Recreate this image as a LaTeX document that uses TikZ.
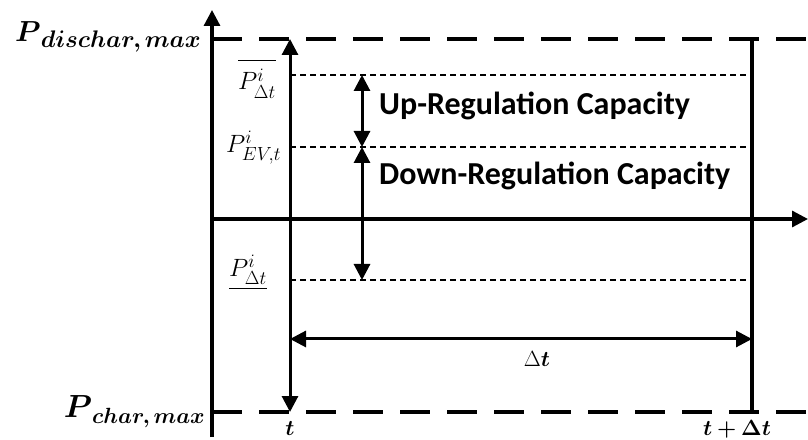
\RequirePackage{fix-cm}
\documentclass[tikz,border=0pt]{standalone}
\usepackage{fontspec}
\usepackage{amsmath}
\usepackage{bm}
\setsansfont{Carlito}
\DeclareMathSizes{25}{25}{19}{15}
\usetikzlibrary{arrows.meta}
\begin{document}
\begin{tikzpicture}[x=1pt,y=1pt,
	axisline/.style={line width=3.2pt, -{Triangle[length=16pt,width=16pt]}},
	dashline/.style={line width=3.2pt, dash pattern=on 30pt off 17pt},
	dotline/.style={line width=2.4pt, dash pattern=on 6pt off 4pt},
	dimarrow/.style={line width=3pt, {Triangle[length=16pt,width=16pt]}-{Triangle[length=16pt,width=16pt]}},
	caplabel/.style={font=\sffamily\bfseries\fontsize{32}{36}\selectfont, anchor=base west, inner sep=0pt},
	mathlabel/.style={font=\fontsize{25}{28}\selectfont, anchor=base west, inner sep=0pt},
	timelabel/.style={font=\fontsize{22}{26}\selectfont, anchor=base, inner sep=0pt}]
	\useasboundingbox (0,0) rectangle (808,439);
	% axes
	\coordinate (o) at (212,2); \coordinate (ytop) at (212,429);
	\coordinate (xl) at (212,220); \coordinate (xr) at (808,220);
	\draw[axisline] (o) -- (ytop);
	\draw[axisline] (xl) -- (xr);
	% limits
	\coordinate (maxl) at (212,400); \coordinate (maxr) at (808,400);
	\coordinate (minl) at (212,27); \coordinate (minr) at (808,27);
	\draw[dashline] (maxl) -- (maxr);
	\draw[dashline] (minl) -- (minr);
	\node[anchor=base east, inner sep=0pt] (pdis) at (201,397) {\fontsize{29}{32}\selectfont$\bm{P}$\raisebox{-6pt}{\fontsize{24}{26}\selectfont$\bm{dischar,max}$}};
	\node[anchor=base east, inner sep=0pt] (pch) at (205,22) {\fontsize{32}{34}\selectfont$\bm{P}$\raisebox{-6pt}{\fontsize{22}{24}\selectfont$\bm{char,max}$}};
	% time interval
	\coordinate (ttop) at (290,400); \coordinate (tbot) at (290,27);
	\coordinate (dttop) at (752,400); \coordinate (dtbot) at (752,27);
	\draw[dimarrow] (tbot) -- (ttop);
	\draw[line width=3.2pt] (dtbot) -- (dttop);
	\node[timelabel] (tlab) at (290,4) {$\bm{t}$};
	\node[timelabel] (dtlab) at (737,4) {$\bm{t+\Delta t}$};
	% bounds
	\foreach \y/\n in {364/hi,292/ev,159/lo} {
		\coordinate (\n l) at (290,\y); \coordinate (\n r) at (752,\y);
		\draw[dotline] (\n l) -- (\n r);
	}
	\node[mathlabel] (phi) at (238,349) {$\overline{P^{i}_{\Delta t}\vphantom{P^{i^i}}}$};
	\node[mathlabel] (pev) at (226,286) {$P^{i}_{EV,t}$};
	\node[mathlabel] (plo) at (229,162) {$\underline{P^{i}_{\Delta t}}$};
	% capacities
	\coordinate (uphi) at (362,364); \coordinate (upev) at (362,292); \coordinate (uplo) at (362,159);
	\draw[dimarrow] (upev) -- (uphi);
	\draw[dimarrow] (uplo) -- (upev);
	\node[caplabel] (upcap) at (379,324) {Up-Regulation Capacity};
	\node[caplabel] (dncap) at (379,254) {Down-Regulation Capacity};
	% width of interval
	\coordinate (dtl) at (290,100); \coordinate (dtr) at (752,100);
	\draw[dimarrow] (dtl) -- (dtr);
	\node[timelabel] (dt) at (537,72) {$\Delta\bm{t}$};
\end{tikzpicture}
\end{document}
